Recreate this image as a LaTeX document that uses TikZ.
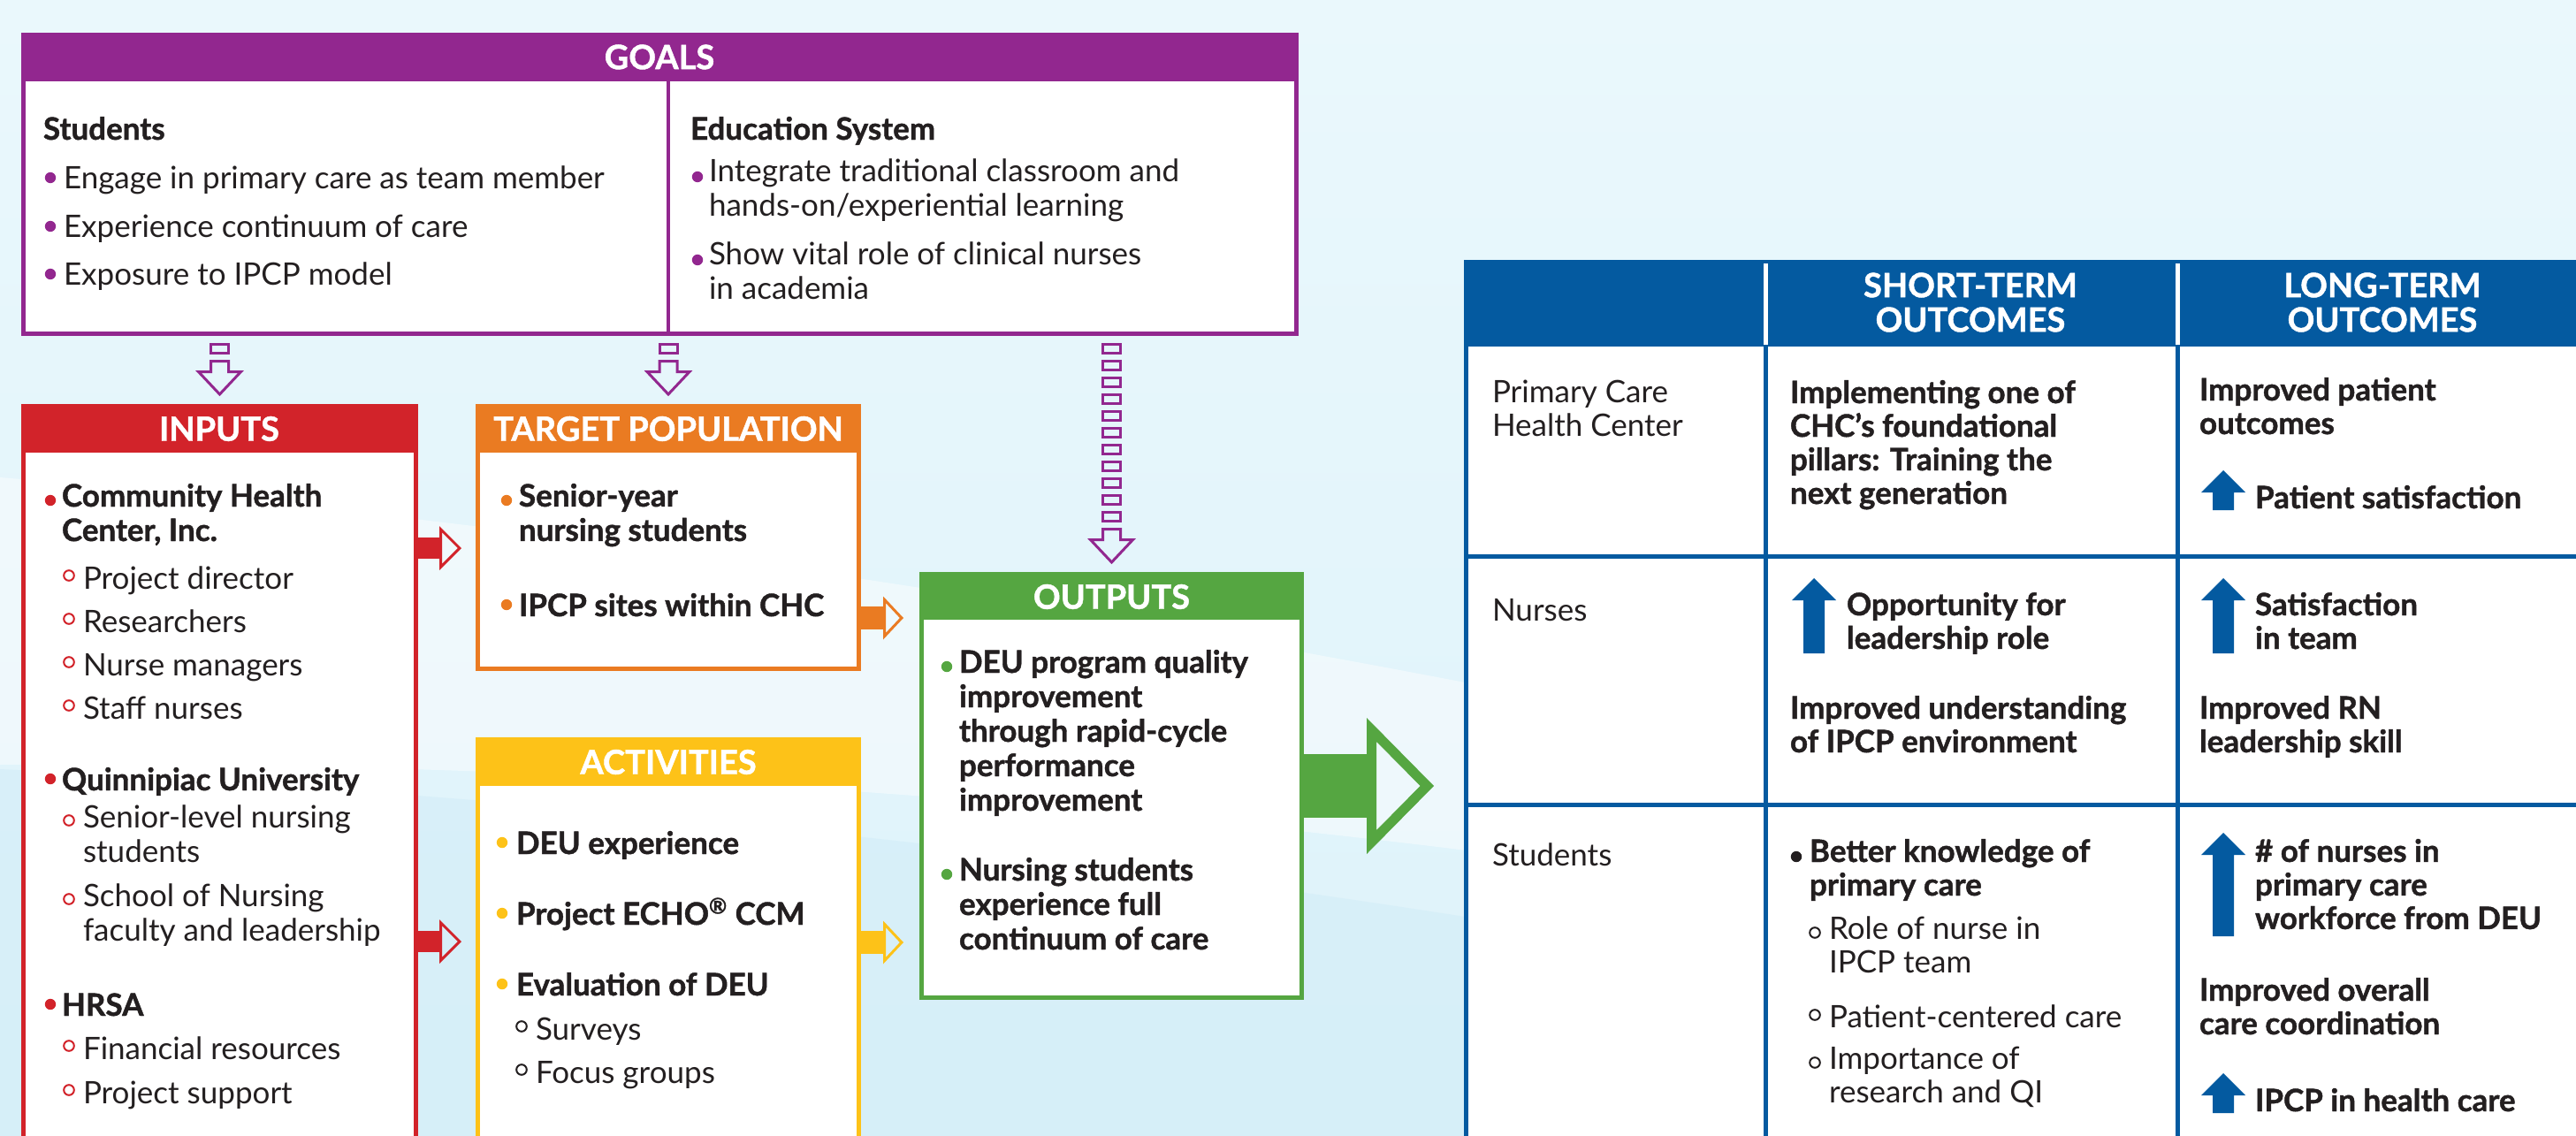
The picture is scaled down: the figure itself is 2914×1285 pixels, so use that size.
\documentclass[tikz,border=0pt]{standalone}
\usepackage{fontspec}
\setmainfont{Lato}[BoldFeatures={FakeBold=1.2}]
\usetikzlibrary{calc}

\definecolor{goalc}{HTML}{92278F}
\definecolor{inc}{HTML}{D2232A}
\definecolor{tpc}{HTML}{EA7B22}
\definecolor{actc}{HTML}{FDC218}
\definecolor{outc}{HTML}{55A641}
\definecolor{tblc}{HTML}{045AA0}
\definecolor{ink}{HTML}{231F20}
\definecolor{bgtop}{HTML}{EAF8FC}
\definecolor{bgbot}{HTML}{DDF2FA}
\definecolor{bgdeep}{HTML}{D2EDF8}

\tikzset{
  tx/.style={anchor=north west, inner sep=0pt, outer sep=0pt, align=left, text=ink,
    font=\fontsize{17.5}{19.5}\selectfont, yshift=16pt,
    execute at begin node={\rule{0pt}{16pt}}},
  txb/.style={tx, font=\fontsize{17.5}{19.5}\selectfont\bfseries},
  tt/.style={tx, font=\fontsize{17.5}{19}\selectfont},
  ttb/.style={tx, font=\fontsize{17.5}{19}\selectfont\bfseries},
  hd/.style={text=white, font=\fontsize{19}{19.5}\selectfont\bfseries, inner sep=0pt, align=center},
  panelbox/.style={rectangle, fill=white, line width=2.5pt, inner sep=0pt, outer sep=0pt},
  flowdash/.style={draw=goalc, line width=1.5pt, line join=miter},
}

% framed panel with a coloured title band
\newcommand\mkpanel[7]{%
  \node[panelbox, draw=#6, minimum width={(#4-#2-5)*0.5pt}, minimum height={(#5-#3-5)*0.5pt}]
    (#1) at ({(#2+#4)/2},{(#3+#5)/2}) {};
  \fill[#6] (#2,#3) rectangle (#4,#7);
}
% filled and open bullets
\newcommand\bulF[3]{\fill[#1] (#2,#3) circle (3.1pt);}
\newcommand\bulO[3]{\draw[#1, line width=1pt] (#2,#3) circle (2.9pt);}
% dashed goal connector ending in a hollow arrow, from the goals panel to #1
\newcommand\goalarrow[2]{%
  \begin{scope}[shift={(goals.south -| #1.north)}]
    \foreach \k in {1,...,#2} {\draw[flowdash] (-10,{19*\k-7}) rectangle (10,{19*\k+3});}
    \draw[flowdash] (-10,{19*#2+12}) -- (10,{19*#2+12}) -- (10,{19*#2+24}) -- (24,{19*#2+24})
      -- (0,{19*#2+49.5}) -- (-24,{19*#2+24}) -- (-10,{19*#2+24}) -- cycle;
  \end{scope}}
% block arrow with a hollow head: colour, start, shaft length, shaft half, head length, head half, stroke
\newcommand\sidearrow[7]{%
  \begin{scope}[shift={(#2)}]
    \pgfmathsetmacro\sd{#7*sqrt(1+(#6/#5)^2)}
    \pgfmathsetmacro\itip{#3+#5*(1-\sd/#6)}
    \pgfmathsetmacro\ihalf{#6*(1-#7/#5)-\sd}
    \fill[#1] (0,-#4) rectangle ({#3+0.5},#4);
    \fill[#1, even odd rule] (#3,-#6) -- ({#3+#5},0) -- (#3,#6) -- cycle
      ({#3+#7},-\ihalf) -- (\itip,0) -- ({#3+#7},\ihalf) -- cycle;
  \end{scope}}
% solid up arrow in the outcome table: centre x, tip y, bottom y
\newcommand\uparr[3]{%
  \fill[tblc] ({#1-25},{#2+25}) -- (#1,#2) -- ({#1+25},{#2+25}) -- ({#1+12},{#2+25})
    -- ({#1+12},#3) -- ({#1-12},#3) -- ({#1-12},{#2+25}) -- cycle;}

\begin{document}
\begin{tikzpicture}[x=0.5pt,y=-0.5pt]
\useasboundingbox (0,0) rectangle (2914,1285);
\clip (0,0) rectangle (2914,1285);

% background
\fill[top color=bgtop, bottom color=bgbot] (0,0) rectangle (2914,1285);
\fill[bgdeep, opacity=0.6] (0,870) .. controls (600,900) and (1200,960) .. (1800,1060)
  .. controls (2300,1140) and (2700,1180) .. (2914,1200) -- (2914,1285) -- (0,1285) -- cycle;
\fill[white, opacity=0.45] (0,540) .. controls (600,590) and (1200,680) .. (1800,800)
  .. controls (2300,900) and (2700,960) .. (2914,990) -- (2914,1120)
  .. controls (2500,1080) and (2100,1020) .. (1800,980)
  .. controls (1200,900) and (600,860) .. (0,865) -- cycle;

% ---------------- goals ----------------
\mkpanel{goals}{24}{37}{1469}{380}{goalc}{92}
\draw[goalc, line width=2pt] (756,92) -- (756,378);
\node[hd] (goalsT) at (746,64.5) {GOALS};
\node[txb] (gS) at (49,158) {Students};
\bulF{goalc}{57}{201}\node[tx] (g1) at (72,213) {Engage in primary care as team member};
\bulF{goalc}{57}{256}\node[tx] (g2) at (72,268) {Experience continuum of care};
\bulF{goalc}{57}{310}\node[tx] (g3) at (72,322) {Exposure to IPCP model};
\node[txb] (gE) at (781,158) {Education System};
\bulF{goalc}{789}{200}\node[tx] (g4) at (802,212) {Integrate traditional classroom and\\hands-on/experiential learning};
\bulF{goalc}{789}{294}\node[tx] (g5) at (802,306) {Show vital role of clinical nurses\\in academia};

% ---------------- inputs ----------------
\mkpanel{inputs}{24}{457}{473}{1320}{inc}{512}
\node[hd] (inputsT) at (248,485) {INPUTS};
\bulF{inc}{57}{566}\node[txb] (i1) at (70,579) {Community Health\\Center, Inc.};
\bulO{inc}{78}{651}\node[tx] (i1a) at (94,666) {Project director};
\bulO{inc}{78}{700}\node[tx] (i1b) at (94,715) {Researchers};
\bulO{inc}{78}{749}\node[tx] (i1c) at (94,764) {Nurse managers};
\bulO{inc}{78}{798}\node[tx] (i1d) at (94,813) {Staff nurses};
\bulF{inc}{57}{881}\node[txb] (i2) at (70,894) {Quinnipiac University};
\bulO{inc}{78}{928}\node[tx] (i2a) at (94,943) {Senior-level nursing\\students};
\bulO{inc}{78}{1017}\node[tx] (i2b) at (94,1032) {School of Nursing\\faculty and leadership};
\bulF{inc}{57}{1136}\node[txb] (i3) at (70,1149) {HRSA};
\bulO{inc}{78}{1183}\node[tx] (i3a) at (94,1198) {Financial resources};
\bulO{inc}{78}{1233}\node[tx] (i3b) at (94,1248) {Project support};

% ---------------- target population ----------------
\mkpanel{tp}{538}{457}{974}{759}{tpc}{512}
\node[hd] (tpT) at (756,485) {TARGET POPULATION};
\bulF{tpc}{573}{566}\node[txb] (t1) at (587,579) {Senior-year\\nursing students};
\bulF{tpc}{573}{684}\node[txb] (t2) at (587,697) {IPCP sites within CHC};

% ---------------- activities ----------------
\mkpanel{act}{538}{834}{974}{1320}{actc}{889}
\node[hd] (actT) at (756,862) {ACTIVITIES};
\bulF{actc}{568}{953}\node[txb] (a1) at (584,966) {DEU experience};
\bulF{actc}{568}{1033}\node[txb] (a2) at (584,1046) {Project ECHO\textsuperscript{®} CCM};
\bulF{actc}{568}{1113}\node[txb] (a3) at (584,1126) {Evaluation of DEU};
\bulO{ink}{590}{1161}\node[tx] (a3a) at (606,1176) {Surveys};
\bulO{ink}{590}{1210}\node[tx] (a3b) at (606,1225) {Focus groups};

% ---------------- outputs ----------------
\mkpanel{outputs}{1040}{647}{1475}{1131}{outc}{701}
\node[hd] (outT) at (1257.5,675) {OUTPUTS};
\bulF{outc}{1071}{754}\node[txb] (o1) at (1085,767) {DEU program quality\\improvement\\through rapid-cycle\\performance\\improvement};
\bulF{outc}{1071}{989}\node[txb] (o2) at (1085,1002) {Nursing students\\experience full\\continuum of care};

% ---------------- outcome table ----------------
\node[panelbox, draw=tblc, minimum width={(2970-1656-5)*0.5pt}, minimum height={(1320-294-5)*0.5pt}]
  (tbl) at ({(1656+2970)/2},{(294+1320)/2}) {};
\fill[tblc] (1656,294) rectangle (2970,392);
\draw[white, line width=2.5pt] (1997,298) -- (1997,390) (2463,298) -- (2463,390);
\draw[tblc, line width=2.5pt] (1997,392) -- (1997,1320) (2463,392) -- (2463,1320);
\draw[tblc, line width=2.5pt] (1656,629.5) -- (2970,629.5) (1656,910) -- (2970,910);
\node[hd] (stT) at (2229,342) {SHORT-TERM\\OUTCOMES};
\node[hd] (ltT) at (2695,342) {LONG-TERM\\OUTCOMES};

\node[tt] (r1) at (1688,462) {Primary Care\\Health Center};
\node[ttb] (c11) at (2025,462) {Implementing one of\\CHC’s foundational\\pillars: Training the\\next generation};
\node[ttb] (c12) at (2488,459) {Improved patient\\outcomes};
\uparr{2515}{532}{577}
\node[ttb] (c12b) at (2551,575) {Patient satisfaction};

\node[tt] (r2) at (1688,702) {Nurses};
\uparr{2052}{654}{739}
\node[ttb] (c21) at (2089,702) {Opportunity for\\leadership role};
\node[ttb] (c21b) at (2025,819) {Improved understanding\\of IPCP environment};
\uparr{2515}{654}{739}
\node[ttb] (c22) at (2551,702) {Satisfaction\\in team};
\node[ttb] (c22b) at (2488,819) {Improved RN\\leadership skill};

\node[tt] (r3) at (1688,979) {Students};
\bulF{ink}{2032}{969}\node[ttb] (c31) at (2047,981) {Better knowledge of\\primary care};
\bulO{ink}{2053}{1055}\node[tt] (c31a) at (2069,1069) {Role of nurse in\\IPCP team};
\bulO{ink}{2053}{1148}\node[tt] (c31b) at (2069,1162) {Patient-centered care};
\bulO{ink}{2053}{1202}\node[tt] (c31c) at (2069,1216) {Importance of\\research and QI};
\uparr{2515}{942}{1059}
\node[ttb] (c32) at (2551,981) {\# of nurses in\\primary care\\workforce from DEU};
\node[ttb] (c32b) at (2488,1138) {Improved overall\\care coordination};
\uparr{2515}{1214}{1259}
\node[ttb] (c32c) at (2551,1257) {IPCP in health care};

% ---------------- connectors ----------------
\goalarrow{inputs}{1}
\goalarrow{tp}{1}
\goalarrow{outputs}{11}
\sidearrow{inc}{inputs.east |- 0,620}{26.5}{12}{25}{25}{3}
\sidearrow{inc}{inputs.east |- 0,1065}{26.5}{12}{25}{25}{3}
\sidearrow{tpc}{tp.east |- 0,699}{27.5}{13}{23}{24.5}{3}
\sidearrow{actc}{act.east |- 0,1066}{27.5}{13}{23}{24.5}{3}
\sidearrow{outc}{outputs.east}{73.5}{36}{76}{77}{11}

\end{tikzpicture}
\end{document}
